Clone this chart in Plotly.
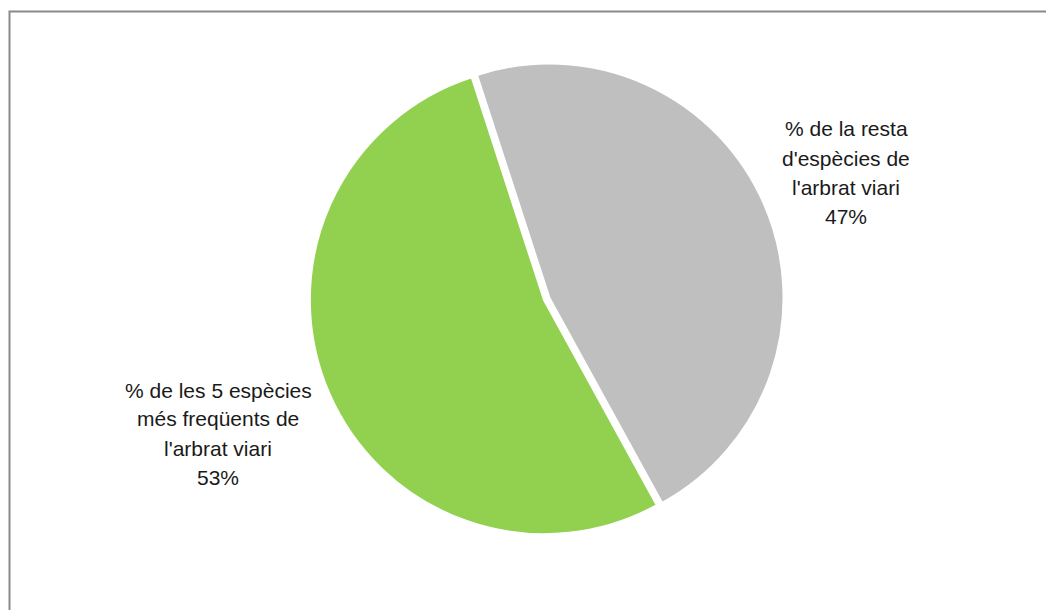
import plotly.graph_objects as go

# Data
categories = [
    "% de la resta d'espècies de l'arbrat viari",
    "% de les 5 espècies més freqüents de l'arbrat viari",
]
values = [47, 53]
colors = ["#BFBFBF", "#92D050"]
label_lines = [
    ["% de la resta", "d'espècies de", "l'arbrat viari"],
    ["% de les 5 espècies", "més freqüents de", "l'arbrat viari"],
]

W, H = 1054, 610
OFF = 8  # page body margin offset
total = sum(values)
percents = [round(v / total * 100) for v in values]

cx_pie, cy_pie, half = 544 - OFF, 300 - OFF, 240
fig = go.Figure()
fig.add_trace(go.Pie(
    labels=categories,
    values=values,
    marker=dict(colors=colors, line=dict(color="white", width=2)),
    sort=False,
    direction="clockwise",
    rotation=-18,
    pull=[0.025, 0],
    textinfo="none",
    hoverinfo="label+percent",
    showlegend=False,
    domain=dict(x=[(cx_pie - half) / W, (cx_pie + half) / W],
                y=[1 - (cy_pie + half) / H, 1 - (cy_pie - half) / H]),
))

# label placement (pixel centres of the label blocks, line spacing)
label_centers = [(846, 129), (218, 390)]
line_gap = 29
for lines, pct, (cx, cy) in zip(label_lines, percents, label_centers):
    all_lines = lines + [f"{pct}%"]
    for i, txt in enumerate(all_lines):
        fig.add_annotation(
            x=(cx - OFF) / W, y=1 - (cy - OFF + i * line_gap) / H,
            xref="paper", yref="paper",
            text=txt, showarrow=False,
            xanchor="center", yanchor="middle",
            font=dict(family="Liberation Sans, Arial, sans-serif", size=21, color="#1a1a1a"),
        )

# chart frame (left & top edges visible)
fig.add_shape(
    type="rect", xref="paper", yref="paper",
    x0=(9.5 - OFF) / W, x1=1.05, y0=-0.05, y1=1 - (11.5 - OFF) / H,
    line=dict(color="#8a8a8a", width=2), fillcolor="rgba(0,0,0,0)",
)

fig.update_layout(
    width=W, height=H,
    margin=dict(l=0, r=0, t=0, b=0),
    paper_bgcolor="white",
    plot_bgcolor="white",
)

fig.write_html("out.html")
